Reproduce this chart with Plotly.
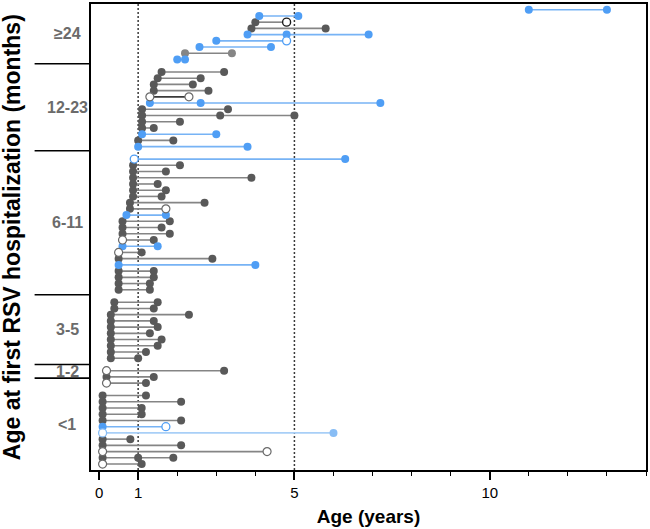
import plotly.graph_objects as go

# ---------------- data ----------------
group_labels = ["≥24", "12-23", "6-11", "3-5", "1-2", "<1"]

# each row: (line_key, [(age_years, marker_style), ...]); first point = first RSV hospitalization
rows_ge24 = [
    ("b", [(11.0, "b"), (13.0, "b")]),
    ("b", [(4.1, "b"), (5.1, "b")]),
    ("g", [(4.0, "g"), (4.8, "ko")]),
    ("g", [(3.9, "g"), (5.8, "g")]),
    ("b", [(3.8, "b"), (4.8, "b"), (6.9, "b")]),
    ("b", [(3.0, "b"), (4.8, "bo")]),
    ("b", [(2.57, "b"), (4.4, "b")]),
    ("g", [(2.2, "lg"), (3.4, "lg")]),
    ("b", [(2.0, "b"), (2.2, "b")]),
]
rows_12_23 = [
    ("g", [(1.6, "g"), (3.2, "g")]),
    ("g", [(1.5, "g"), (2.6, "g")]),
    ("g", [(1.4, "g"), (2.4, "g")]),
    ("g", [(1.4, "g"), (2.8, "g")]),
    ("k", [(1.3, "go"), (2.3, "go")]),
    ("b", [(1.3, "b"), (2.6, "b"), (7.2, "b")]),
    ("g", [(1.1, "g"), (3.3, "g")]),
    ("g", [(1.1, "g"), (3.1, "g"), (5.0, "g")]),
    ("g", [(1.1, "g"), (2.07, "g")]),
    ("g", [(1.1, "g"), (1.4, "g")]),
    ("b", [(1.1, "b"), (3.0, "b")]),
    ("g", [(1.0, "g"), (1.9, "g")]),
    ("b", [(1.0, "b"), (3.8, "b")]),
]
rows_6_11 = [
    ("b", [(0.9, "bo"), (6.3, "b")]),
    ("g", [(0.87, "g"), (2.07, "g")]),
    ("g", [(0.87, "g"), (1.71, "g")]),
    ("g", [(0.87, "g"), (3.9, "g")]),
    ("g", [(0.87, "g"), (1.5, "g")]),
    ("g", [(0.87, "g"), (1.71, "g")]),
    ("g", [(0.87, "g"), (1.6, "g")]),
    ("g", [(0.79, "g"), (2.7, "g")]),
    ("g", [(0.79, "g"), (1.71, "go")]),
    ("b", [(0.7, "b"), (1.71, "b")]),
    ("g", [(0.6, "g"), (1.81, "g")]),
    ("g", [(0.6, "g"), (1.6, "g")]),
    ("g", [(0.6, "g"), (1.81, "g")]),
    ("g", [(0.6, "go"), (1.4, "g")]),
    ("b", [(0.6, "b"), (1.5, "b")]),
    ("g", [(0.5, "go"), (1.09, "g")]),
    ("g", [(0.5, "g"), (2.9, "g")]),
    ("b", [(0.5, "b"), (4.0, "b")]),
    ("g", [(0.5, "g"), (1.4, "g")]),
    ("g", [(0.5, "g"), (1.4, "g")]),
    ("g", [(0.5, "g"), (1.3, "g")]),
    ("g", [(0.5, "g"), (1.3, "g")]),
]
rows_3_5 = [
    ("g", [(0.39, "g"), (1.5, "g")]),
    ("g", [(0.39, "g"), (1.4, "g")]),
    ("g", [(0.3, "g"), (2.3, "g")]),
    ("g", [(0.3, "g"), (1.4, "g")]),
    ("g", [(0.3, "g"), (1.5, "g")]),
    ("g", [(0.3, "g"), (1.3, "g")]),
    ("g", [(0.3, "g"), (1.6, "g")]),
    ("g", [(0.3, "g"), (1.5, "g")]),
    ("g", [(0.3, "g"), (1.2, "g")]),
    ("g", [(0.3, "g"), (1.0, "g")]),
]
rows_1_2 = [
    ("g", [(0.19, "go"), (3.2, "g")]),
    ("g", [(0.19, "g"), (1.4, "g")]),
    ("g", [(0.19, "go"), (1.2, "g")]),
]
rows_lt1 = [
    ("g", [(0.09, "g"), (1.2, "g")]),
    ("g", [(0.09, "g"), (2.1, "g")]),
    ("g", [(0.09, "g"), (1.09, "g")]),
    ("g", [(0.09, "g"), (1.09, "g")]),
    ("g", [(0.09, "g"), (2.1, "g")]),
    ("b", [(0.09, "b"), (1.71, "bo")]),
    ("lb", [(0.09, "lbo"), (6.0, "lb")]),
    ("g", [(0.09, "g"), (0.8, "g")]),
    ("g", [(0.09, "g"), (2.1, "g")]),
    ("g", [(0.09, "go"), (4.3, "go")]),
    ("g", [(0.09, "g"), (1.0, "g"), (1.9, "g")]),
    ("g", [(0.09, "go"), (1.09, "g")]),
]
groups = [rows_ge24, rows_12_23, rows_6_11, rows_3_5, rows_1_2, rows_lt1]

# group separator positions (row-slot units) on the label column
group_bounds = [8.68, 22.65, 45.8, 57.0, 59.2]
ref_lines = [1, 5]
x_tickvals = [0, 1, 5, 10]

# ---------------- styles ----------------
GRAY = "#595959"
BLUE = "#4f9ef5"
LBLUE = "#88bdf5"
marker_styles = {
    "g": dict(color=GRAY, line=dict(color=GRAY, width=0)),
    "lg": dict(color="#858585", line=dict(color="#858585", width=0)),
    "b": dict(color=BLUE, line=dict(color=BLUE, width=0)),
    "lb": dict(color=LBLUE, line=dict(color=LBLUE, width=0)),
    "go": dict(color="white", line=dict(color="#6a6a6a", width=1.2)),
    "ko": dict(color="white", line=dict(color="#1a1a1a", width=1.4)),
    "bo": dict(color="white", line=dict(color=BLUE, width=1.3)),
    "lbo": dict(color="white", line=dict(color=LBLUE, width=1.3)),
}
line_colors = {"g": "#858585", "b": "#77b3f5", "lb": "#a8cff7", "k": "#3a3a3a"}

# ---------------- build ----------------
line_xy = {k: ([], []) for k in line_colors}
mark_xy = {k: ([], []) for k in marker_styles}
slot = 0
for gi, rows in enumerate(groups):
    for lk, pts in rows:
        xs = [p[0] for p in pts]
        lx, ly = line_xy[lk]
        lx += [min(xs), max(xs), None]
        ly += [slot, slot, None]
        for x, st in pts:
            mark_xy[st][0].append(x)
            mark_xy[st][1].append(slot)
        slot += 1
    slot += 1  # gap between groups

y_top = -0.92
y_bot = 73.96

fig = go.Figure()
for lk, (lx, ly) in line_xy.items():
    if lx:
        fig.add_trace(go.Scatter(x=lx, y=ly, mode="lines",
                                 line=dict(color=line_colors[lk], width=1.6),
                                 hoverinfo="skip", showlegend=False))
for st in ["g", "lg", "b", "lb", "go", "ko", "bo", "lbo"]:
    mx, my = mark_xy[st]
    if mx:
        s = marker_styles[st]
        fig.add_trace(go.Scatter(x=mx, y=my, mode="markers",
                                 marker=dict(size=8, color=s["color"], line=s["line"]),
                                 showlegend=False))

for xv in ref_lines:
    fig.add_shape(type="line", x0=xv, x1=xv, y0=0, y1=1, xref="x", yref="paper",
                  line=dict(color="#3a3a3a", width=1.5, dash="2px,2px"), layer="below")

# label column separators
L, R = 91, 647
pw = R - L
def px_to_paper(px):
    return (px - L) / pw

for b in group_bounds:
    fig.add_shape(type="line", x0=px_to_paper(34.5), x1=0, y0=b, y1=b,
                  xref="paper", yref="y", line=dict(color="black", width=1.6))

edges = [y_top] + group_bounds + [y_bot]
for i, lab in enumerate(group_labels):
    fig.add_annotation(x=px_to_paper(67), y=(edges[i] + edges[i + 1]) / 2,
                       xref="paper", yref="y", text=f"<b>{lab}</b>", showarrow=False,
                       font=dict(family="Liberation Sans, Arial", size=16, color="#6b6b6b"),
                       xanchor="center", yanchor="middle")

fig.add_annotation(x=px_to_paper(12), y=0.5, xref="paper", yref="paper",
                   text="<b>Age at first RSV hospitalization (months)</b>", textangle=-90,
                   showarrow=False, font=dict(family="Liberation Sans, Arial", size=23, color="black"),
                   xanchor="center", yanchor="middle")

fig.update_layout(
    width=650, height=529,
    margin=dict(l=L, r=650 - R, t=2, b=529 - 470),
    plot_bgcolor="white", paper_bgcolor="white",
    font=dict(family="Liberation Sans, Arial", color="black"),
    xaxis=dict(range=[-0.207, 14], showgrid=False, zeroline=False,
               showline=True, linecolor="black", linewidth=1.6, mirror=True,
               tickvals=x_tickvals, ticks="outside", ticklen=8, tickwidth=1.6, tickcolor="black",
               tickfont=dict(size=15, family="Liberation Sans, Arial", color="black"),
               minor=dict(dtick=1, tick0=0, ticks="outside", ticklen=4, tickwidth=1.4, tickcolor="black"),
               title=dict(text="<b>Age (years)</b>", font=dict(size=19, family="Liberation Sans, Arial"),
                          standoff=10)),
    yaxis=dict(range=[y_bot, y_top], showgrid=False, zeroline=False,
               showline=True, linecolor="black", linewidth=1.6, mirror=True,
               showticklabels=False, ticks=""),
)

fig.write_html("out.html")
